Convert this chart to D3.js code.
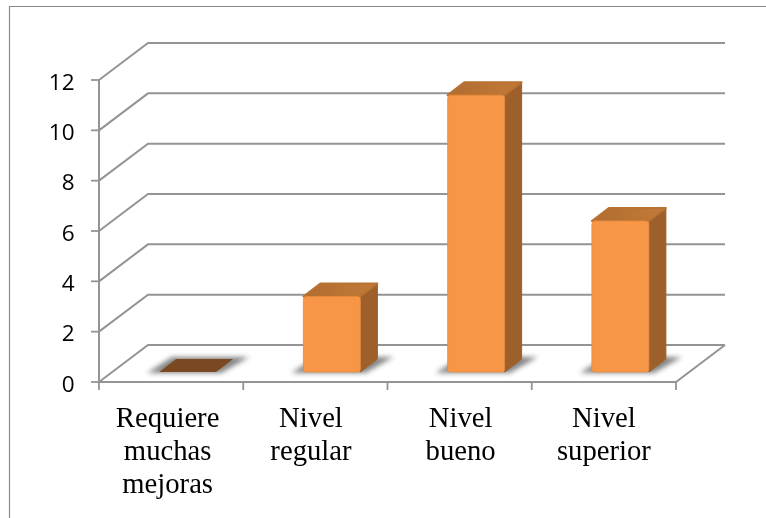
<!DOCTYPE html>
<html><head><meta charset="utf-8">
<script src="https://cdn.jsdelivr.net/npm/d3@7"></script>
<style>html,body{margin:0;padding:0;background:#fff;overflow:hidden}svg{display:block}</style>
</head><body><svg id="c" width="766" height="518"></svg>
<script>
const categories = [["Requiere","muchas","mejoras"],["Nivel","regular"],["Nivel","bueno"],["Nivel","superior"]];
const values = [0, 3, 11, 6];
const yTicks = [0, 2, 4, 6, 8, 10, 12];

const W = 766, H = 518;
const svg = d3.select("#c");
const grey = "#949494";
const depth = {dx: 49, dy: -37};
const barDepth = {dx: 17, dy: -13};
const x = d3.scaleBand().domain(d3.range(categories.length)).range([99, 676]);
const y = d3.scaleLinear().domain([0, 12]).range([382, 80]);
const barBase = 372, barW = 57, barShift = 16.5;

const defs = svg.append("defs");
defs.append("filter").attr("id", "soft").attr("x", "-20%").attr("y", "-20%").attr("width", "140%").attr("height", "140%")
  .append("feGaussianBlur").attr("stdDeviation", 0.55);
defs.append("filter").attr("id", "softText").attr("x", "-20%").attr("y", "-20%").attr("width", "140%").attr("height", "140%")
  .append("feGaussianBlur").attr("stdDeviation", 0.35);
defs.append("filter").attr("id", "shadow").attr("x", "-30%").attr("y", "-60%").attr("width", "160%").attr("height", "220%")
  .append("feGaussianBlur").attr("stdDeviation", 2.6);
const grad = defs.append("linearGradient").attr("id", "topG").attr("x1", 0).attr("x2", 1).attr("y1", 0).attr("y2", 0);
grad.append("stop").attr("offset", 0).attr("stop-color", "#b06c30");
grad.append("stop").attr("offset", 1).attr("stop-color", "#c27a38");

// outer frame
svg.append("path").attr("d", d3.line()([[9.5, H], [9.5, 6.5], [W, 6.5]]))
  .attr("fill", "none").attr("stroke", "#8a8a8a").attr("stroke-width", 1.2);

const g = svg.append("g").attr("filter", "url(#soft)");
const line = d3.line();

yTicks.forEach(t => {
  const p = y(t);
  g.append("path").attr("d", line([[x.range()[0], p], [x.range()[0] + depth.dx, p + depth.dy], [725, p + depth.dy]]))
    .attr("fill", "none").attr("stroke", grey).attr("stroke-width", 2);
  g.append("line").attr("x1", 91).attr("x2", 99).attr("y1", p).attr("y2", p).attr("stroke", grey).attr("stroke-width", 1.8);
});
g.append("line").attr("x1", 99).attr("x2", 99).attr("y1", y(12)).attr("y2", y(0)).attr("stroke", grey).attr("stroke-width", 2);
g.append("path").attr("d", line([[99, y(0)], [676, y(0)], [725, y(0) + depth.dy]]))
  .attr("fill", "none").attr("stroke", grey).attr("stroke-width", 2);
d3.range(categories.length + 1).forEach(i => {
  const px = 99 + i * x.step();
  g.append("line").attr("x1", px).attr("x2", px).attr("y1", y(0)).attr("y2", y(0) + 8).attr("stroke", grey).attr("stroke-width", 1.8);
});

values.forEach((v, i) => {
  const x0 = x(i) + x.bandwidth() / 2 + barShift - barW / 2, x1 = x0 + barW;
  const top = barBase - (y(0) - y(v));
  const b = barDepth;
  g.append("polygon").attr("points", [[x0 - 12, barBase + 1], [x1 + 5, barBase + 1], [x1 + b.dx + 16, barBase + b.dy - 2], [x0 + b.dx - 4, barBase + b.dy - 2]].join(" "))
    .attr("fill", "#666").attr("opacity", 0.8).attr("filter", "url(#shadow)");
  if (v === 0) {
    g.append("polygon").attr("points", [[x0, barBase], [x1, barBase], [x1 + b.dx, barBase + b.dy], [x0 + b.dx, barBase + b.dy]].join(" "))
      .attr("fill", "#7a4a20");
    return;
  }
  g.append("polygon").attr("points", [[x1, top], [x1 + b.dx, top + b.dy], [x1 + b.dx, barBase + b.dy], [x1, barBase]].join(" "))
    .attr("fill", "#9e602a").attr("stroke", "#9e602a").attr("stroke-width", 1).attr("stroke-linejoin", "round");
  g.append("polygon").attr("points", [[x0, top], [x0 + b.dx, top + b.dy], [x1 + b.dx, top + b.dy], [x1, top]].join(" "))
    .attr("fill", "url(#topG)").attr("stroke", "#b87232").attr("stroke-width", 2).attr("stroke-linejoin", "round");
  g.append("rect").attr("x", x0).attr("y", top).attr("width", barW).attr("height", barBase - top).attr("rx", 3)
    .attr("fill", "#f79646").attr("stroke", "#e98a3c").attr("stroke-width", 0.8);
});

svg.append("g").attr("filter", "url(#softText)").selectAll("text").data(yTicks).join("text")
  .attr("x", 74.5).attr("y", d => y(d) + 1.5).attr("dy", "0.36em").attr("text-anchor", "end")
  .attr("font-family", "'Open Sans', 'Noto Sans', sans-serif").attr("font-size", 22.5).attr("fill", "#000")
  .text(d => d);

const labelNudge = [-3.5, -4.4, 1, 0];
svg.append("g").attr("filter", "url(#softText)").selectAll("text").data(categories).join("text")
  .attr("text-anchor", "middle").attr("font-family", "'Liberation Serif', serif").attr("font-size", 28.7).attr("fill", "#000")
  .attr("transform", (d, i) => `translate(${x(i) + x.bandwidth() / 2 + labelNudge[i]},0)`)
  .each(function (d) {
    d3.select(this).selectAll("tspan").data(d).join("tspan")
      .attr("x", 0).attr("y", (s, k) => 427 + k * 33).text(s => s);
  });
</script></body></html>
